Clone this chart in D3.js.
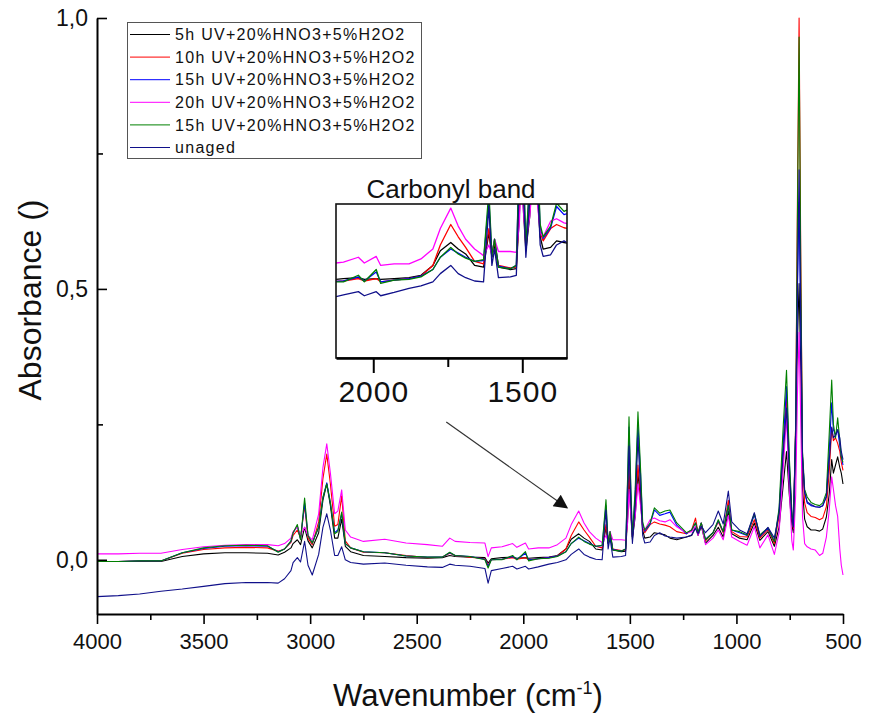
<!DOCTYPE html>
<html lang="en">
<head>
<meta charset="utf-8" />
<title>FTIR absorbance</title>
<script src="https://cdn.jsdelivr.net/npm/d3@7/dist/d3.min.js"></script>
<style>
  body { margin: 0; background: white; }
  text { font-family: "Liberation Sans", Arial, sans-serif; fill: #111; }
</style>
</head>
<body>
<script>
// wavenumber grid (cm-1), shared by all spectra
var wavenumbers = [4000, 3900, 3800, 3700, 3600, 3500, 3400, 3300, 3200, 3150,
  3120, 3090, 3080, 3060, 3045, 3026, 3010, 2990, 2960, 2940,
  2922, 2905, 2885, 2870, 2852, 2835, 2810, 2750, 2650, 2550,
  2450, 2380, 2345, 2320, 2250, 2180, 2165, 2150, 2100, 2050,
  2030, 1990, 1975, 1930, 1880, 1840, 1800, 1775, 1740, 1715,
  1690, 1660, 1630, 1612, 1602, 1593, 1580, 1540, 1520, 1510,
  1504, 1495, 1488, 1475, 1462, 1450, 1440, 1430, 1405, 1385,
  1360, 1335, 1312, 1280, 1235, 1210, 1192, 1180, 1165, 1145,
  1110, 1085, 1062, 1038, 1022, 985, 950, 916, 890, 852,
  822, 800, 780, 765, 752, 740, 733, 722, 714, 706,
  698, 690, 680, 668, 650, 630, 610, 595, 578, 565,
  553, 545, 535, 525, 515, 508, 500];

var uv5h = [-0.003, -0.003, -0.003, -0.003, 0.006, 0.011, 0.013, 0.013, 0.012, 0.009,
  0.014, 0.022, 0.030, 0.037, 0.028, 0.060, 0.035, 0.022, 0.050, 0.110,
  0.140, 0.100, 0.040, 0.040, 0.075, 0.025, 0.015, 0.008, 0.006, 0.004,
  0.003, 0.004, 0.008, 0.006, 0.005, 0.004, -0.006, 0.002, 0.004, 0.005,
  0.003, 0.004, 0.003, 0.004, 0.005, 0.008, 0.020, 0.038, 0.048, 0.040,
  0.034, 0.020, 0.018, 0.060, 0.030, 0.045, 0.018, 0.015, 0.016, 0.080,
  0.150, 0.080, 0.038, 0.080, 0.160, 0.110, 0.055, 0.040, 0.042, 0.050,
  0.048, 0.046, 0.040, 0.037, 0.042, 0.045, 0.060, 0.045, 0.062, 0.031,
  0.045, 0.060, 0.042, 0.090, 0.048, 0.040, 0.037, 0.068, 0.036, 0.052,
  0.025, 0.060, 0.140, 0.200, 0.120, 0.065, 0.050, 0.200, 0.400, 0.510,
  0.350, 0.130, 0.075, 0.061, 0.055, 0.055, 0.053, 0.057, 0.079, 0.120,
  0.185, 0.160, 0.175, 0.190, 0.170, 0.160, 0.140];

var uv10h = [-0.003, -0.003, -0.002, -0.002, 0.012, 0.019, 0.022, 0.023, 0.022, 0.016,
  0.020, 0.032, 0.045, 0.055, 0.040, 0.100, 0.040, 0.028, 0.070, 0.150,
  0.195, 0.140, 0.062, 0.065, 0.118, 0.035, 0.022, 0.014, 0.013, 0.008,
  0.004, 0.005, 0.012, 0.008, 0.005, 0.002, -0.010, 0.000, 0.001, 0.004,
  0.001, 0.004, 0.000, 0.002, 0.004, 0.007, 0.020, 0.045, 0.070, 0.055,
  0.042, 0.025, 0.022, 0.065, 0.032, 0.050, 0.020, 0.017, 0.018, 0.090,
  0.170, 0.090, 0.042, 0.090, 0.175, 0.120, 0.060, 0.050, 0.065, 0.070,
  0.066, 0.064, 0.061, 0.052, 0.048, 0.055, 0.077, 0.050, 0.068, 0.035,
  0.050, 0.070, 0.050, 0.110, 0.052, 0.043, 0.042, 0.074, 0.040, 0.056,
  0.030, 0.080, 0.200, 0.300, 0.170, 0.080, 0.058, 0.250, 0.650, 1.000,
  0.550, 0.190, 0.105, 0.087, 0.080, 0.078, 0.074, 0.077, 0.098, 0.160,
  0.243, 0.220, 0.225, 0.215, 0.200, 0.180, 0.165];

var uv15h = [-0.003, -0.003, -0.002, -0.002, 0.013, 0.021, 0.025, 0.026, 0.025, 0.015,
  0.020, 0.034, 0.050, 0.062, 0.038, 0.105, 0.045, 0.031, 0.060, 0.115,
  0.142, 0.105, 0.050, 0.055, 0.085, 0.030, 0.022, 0.015, 0.013, 0.007,
  0.005, 0.005, 0.013, 0.008, 0.006, 0.001, -0.012, 0.000, 0.001, 0.006,
  0.001, 0.012, 0.000, 0.002, 0.004, 0.007, 0.015, 0.030, 0.040, 0.035,
  0.030, 0.025, 0.026, 0.100, 0.032, 0.052, 0.019, 0.016, 0.020, 0.150,
  0.245, 0.120, 0.042, 0.120, 0.250, 0.160, 0.065, 0.053, 0.066, 0.092,
  0.082, 0.085, 0.088, 0.064, 0.048, 0.055, 0.068, 0.050, 0.068, 0.038,
  0.050, 0.072, 0.052, 0.100, 0.055, 0.050, 0.045, 0.083, 0.044, 0.058,
  0.034, 0.090, 0.220, 0.320, 0.180, 0.085, 0.062, 0.240, 0.500, 0.660,
  0.420, 0.190, 0.125, 0.105, 0.100, 0.098, 0.097, 0.100, 0.118, 0.200,
  0.290, 0.240, 0.230, 0.240, 0.210, 0.190, 0.175];

var uv20h = [0.011, 0.011, 0.012, 0.012, 0.019, 0.024, 0.027, 0.028, 0.028, 0.026,
  0.030, 0.040, 0.052, 0.061, 0.046, 0.060, 0.045, 0.037, 0.085, 0.170,
  0.214, 0.160, 0.085, 0.090, 0.129, 0.055, 0.042, 0.034, 0.038, 0.031,
  0.028, 0.025, 0.040, 0.034, 0.032, 0.031, 0.006, 0.022, 0.024, 0.030,
  0.023, 0.031, 0.020, 0.022, 0.022, 0.028, 0.040, 0.065, 0.090, 0.068,
  0.052, 0.040, 0.032, 0.045, 0.034, 0.052, 0.037, 0.037, 0.036, 0.070,
  0.130, 0.080, 0.049, 0.080, 0.140, 0.100, 0.060, 0.055, 0.074, 0.077,
  0.072, 0.070, 0.074, 0.061, 0.050, 0.052, 0.062, 0.045, 0.066, 0.028,
  0.040, 0.055, 0.037, 0.082, 0.042, 0.034, 0.027, 0.061, 0.022, 0.046,
  0.010, 0.050, 0.170, 0.264, 0.130, 0.035, 0.018, 0.120, 0.300, 0.420,
  0.250, 0.080, 0.030, 0.024, 0.020, 0.018, 0.008, 0.012, 0.042, 0.090,
  0.153, 0.130, 0.100, 0.080, 0.020, -0.010, -0.028];

var uv15hB = [-0.003, -0.003, -0.002, -0.002, 0.013, 0.022, 0.026, 0.027, 0.026, 0.014,
  0.020, 0.035, 0.050, 0.065, 0.037, 0.114, 0.045, 0.031, 0.060, 0.115,
  0.140, 0.105, 0.048, 0.052, 0.088, 0.030, 0.022, 0.015, 0.013, 0.007,
  0.005, 0.005, 0.014, 0.008, 0.006, 0.000, -0.015, 0.000, 0.000, 0.008,
  0.000, 0.015, -0.002, 0.002, 0.003, 0.006, 0.015, 0.030, 0.042, 0.034,
  0.029, 0.025, 0.027, 0.111, 0.032, 0.052, 0.018, 0.016, 0.020, 0.160,
  0.264, 0.130, 0.042, 0.130, 0.273, 0.170, 0.070, 0.055, 0.068, 0.096,
  0.086, 0.090, 0.092, 0.068, 0.050, 0.055, 0.068, 0.050, 0.068, 0.037,
  0.050, 0.074, 0.052, 0.100, 0.055, 0.052, 0.046, 0.085, 0.046, 0.059,
  0.034, 0.095, 0.250, 0.350, 0.190, 0.090, 0.064, 0.250, 0.620, 0.965,
  0.520, 0.200, 0.130, 0.116, 0.106, 0.102, 0.100, 0.105, 0.124, 0.230,
  0.332, 0.250, 0.225, 0.262, 0.220, 0.190, 0.180];

var unaged = [-0.068, -0.066, -0.063, -0.058, -0.054, -0.049, -0.044, -0.042, -0.042, -0.043,
  -0.035, -0.020, -0.005, 0.004, -0.004, 0.034, -0.010, -0.028, 0.010, 0.060,
  0.085, 0.055, 0.008, 0.008, 0.024, 0.000, -0.005, -0.008, -0.006, -0.010,
  -0.013, -0.014, -0.008, -0.010, -0.012, -0.016, -0.043, -0.020, -0.016, -0.012,
  -0.017, -0.012, -0.017, -0.013, -0.008, -0.005, 0.000, 0.010, 0.020, 0.010,
  0.005, 0.001, 0.000, 0.092, 0.020, 0.040, 0.005, 0.006, 0.008, 0.120,
  0.210, 0.100, 0.030, 0.100, 0.225, 0.130, 0.045, 0.031, 0.033, 0.045,
  0.050, 0.044, 0.042, 0.040, 0.042, 0.046, 0.058, 0.048, 0.062, 0.050,
  0.065, 0.090, 0.066, 0.127, 0.070, 0.055, 0.048, 0.087, 0.043, 0.060,
  0.040, 0.085, 0.200, 0.280, 0.160, 0.080, 0.060, 0.240, 0.500, 0.720,
  0.450, 0.190, 0.125, 0.107, 0.102, 0.098, 0.097, 0.100, 0.116, 0.180,
  0.245, 0.225, 0.230, 0.240, 0.225, 0.200, 0.185];

var seriesNames = ["5h UV+20%HNO3+5%H2O2", "10h UV+20%HNO3+5%H2O2", "15h UV+20%HNO3+5%H2O2",
  "20h UV+20%HNO3+5%H2O2", "15h UV+20%HNO3+5%H2O2", "unaged"];
var seriesValues = [uv5h, uv10h, uv15h, uv20h, uv15hB, unaged];
var seriesColors = ["#000000", "#ff0000", "#0000ff", "#ff00ff", "#008000", "#10108a"];

var xTicks = [4000, 3500, 3000, 2500, 2000, 1500, 1000, 500];
var xMinorTicks = [3750, 3250, 2750, 2250, 1750, 1250, 750];
var yTicks = [0, 0.5, 1.0];
var yMinorTicks = [0.25, 0.75];
var insetTicks = [2000, 1500];
var insetMinorTicks = [1750];

var w = 869, h = 720;
var svg = d3.select("body").append("svg")
            .attr("width", w)
            .attr("height", h);

var comma = d3.formatLocale({decimal: ",", thousands: ".", grouping: [3], currency: ["", ""]}).format(".1f");
var plain = d3.format("d");

var xScale = d3.scaleLinear().domain([4000, 500]).range([97, 843]);
var yScale = d3.scaleLinear().domain([-0.1, 1.0]).range([614, 18]);

var series = seriesValues.map(function(vals, i) {
  return { name: seriesNames[i], color: seriesColors[i],
           points: wavenumbers.map(function(wn, j) { return [wn, vals[j]]; }) };
});

// main spectra
var line = d3.line()
             .x(function(d) { return xScale(d[0]); })
             .y(function(d) { return yScale(d[1]); });
svg.append("g").selectAll("path")
   .data(series)
   .enter()
   .append("path")
   .attr("d", function(d) { return line(d.points); })
   .attr("fill", "none")
   .attr("stroke", function(d) { return d.color; })
   .attr("stroke-width", 1.1)
   .attr("stroke-linejoin", "round");

// axes
var xAxis = d3.axisBottom(xScale).tickValues(xTicks).tickSize(10).tickSizeOuter(0).tickPadding(9)
              .tickFormat(plain);
var xMinor = d3.axisBottom(xScale).tickValues(xMinorTicks).tickSize(6).tickFormat("");
var yAxis = d3.axisLeft(yScale).tickValues(yTicks).tickSize(-10).tickSizeOuter(0).tickPadding(9)
              .tickFormat(comma);
var yMinor = d3.axisLeft(yScale).tickValues(yMinorTicks).tickSize(-6).tickFormat("");

var gx = svg.append("g").attr("transform", "translate(0,614)").call(xAxis);
svg.append("g").attr("transform", "translate(0,614)").call(xMinor).select(".domain").remove();
var gy = svg.append("g").attr("transform", "translate(97,0)").call(yAxis);
svg.append("g").attr("transform", "translate(97,0)").call(yMinor).select(".domain").remove();

svg.selectAll(".domain").attr("stroke-width", 2);
svg.selectAll(".tick line").attr("stroke-width", 1.6);
gx.selectAll("text").attr("font-size", 22).attr("font-family", "Liberation Sans, Arial, sans-serif").attr("fill", "#111");
gy.selectAll("text").attr("font-size", 23).attr("font-family", "Liberation Sans, Arial, sans-serif").attr("fill", "#111");

// axis titles
svg.append("text")
   .attr("transform", "translate(41,300) rotate(-90)")
   .attr("text-anchor", "middle")
   .attr("font-size", 32)
   .text("Absorbance ()");
var xt = svg.append("text")
   .attr("x", 468)
   .attr("y", 706)
   .attr("text-anchor", "middle")
   .attr("font-size", 31)
   .text("Wavenumber (cm");
xt.append("tspan").attr("font-size", 18).attr("dy", -12).text("-1");
xt.append("tspan").attr("dy", 12).text(")");

// legend
var legend = svg.append("g");
legend.append("rect")
      .attr("x", 127.5).attr("y", 22.5)
      .attr("width", 294).attr("height", 136)
      .attr("fill", "white")
      .attr("stroke", "#555")
      .attr("stroke-width", 1);
var rows = legend.selectAll("g.row")
                 .data(series)
                 .enter()
                 .append("g")
                 .attr("class", "row")
                 .attr("transform", function(d, i) { return "translate(0," + (34.5 + i * 22.6) + ")"; });
rows.append("line")
    .attr("x1", 130).attr("x2", 170)
    .attr("stroke", function(d) { return d.color; })
    .attr("stroke-width", 1);
rows.append("text")
    .attr("x", 175)
    .attr("dy", "0.36em")
    .attr("font-size", 16)
    .attr("letter-spacing", 1.3)
    .text(function(d) { return d.name; });

// inset: carbonyl band
var ix = d3.scaleLinear().domain([2125, 1350]).range([336, 567]);
var iy = d3.scaleLinear().domain([-0.093, 0.095]).range([358, 204]);
var inset = svg.append("g");
inset.append("rect")
     .attr("x", 336).attr("y", 204)
     .attr("width", 231).attr("height", 154)
     .attr("fill", "white");
svg.append("clipPath").attr("id", "insetClip")
   .append("rect").attr("x", 336).attr("y", 204).attr("width", 231).attr("height", 154);
var iline = d3.line()
              .x(function(d) { return ix(d[0]); })
              .y(function(d) { return iy(d[1]); });
inset.append("g")
     .attr("clip-path", "url(#insetClip)")
     .selectAll("path")
     .data(series)
     .enter()
     .append("path")
     .attr("d", function(d) { return iline(d.points); })
     .attr("fill", "none")
     .attr("stroke", function(d) { return d.color; })
     .attr("stroke-width", 1.3)
     .attr("stroke-linejoin", "round");
inset.append("rect")
     .attr("x", 336).attr("y", 204)
     .attr("width", 231).attr("height", 154)
     .attr("fill", "none")
     .attr("stroke", "#111")
     .attr("stroke-width", 1.6);
var ixAxis = d3.axisBottom(ix).tickValues(insetTicks).tickSize(15).tickSizeOuter(0).tickPadding(8)
               .tickFormat(plain);
var ixMinor = d3.axisBottom(ix).tickValues(insetMinorTicks).tickSize(9).tickFormat("");
var gix = inset.append("g").attr("transform", "translate(0,358)").call(ixAxis);
inset.append("g").attr("transform", "translate(0,358)").call(ixMinor).select(".domain").remove();
gix.select(".domain").attr("stroke-width", 2.5);
inset.selectAll(".tick line").attr("stroke-width", 2);
gix.selectAll("text")
   .attr("font-size", 30)
   .attr("font-family", "Noto Sans, sans-serif")
   .attr("letter-spacing", 1)
   .attr("fill", "#111");
inset.append("text")
     .attr("x", 451)
     .attr("y", 198)
     .attr("text-anchor", "middle")
     .attr("font-family", "Noto Sans, sans-serif")
     .attr("font-size", 26)
     .text("Carbonyl band");

// arrow pointing at the carbonyl peak
svg.append("defs").append("marker")
   .attr("id", "head")
   .attr("viewBox", "0 0 10 10")
   .attr("refX", 9).attr("refY", 5)
   .attr("markerWidth", 18).attr("markerHeight", 14)
   .attr("markerUnits", "userSpaceOnUse")
   .attr("orient", "auto")
   .append("path")
   .attr("d", "M0,0L10,5L0,10Z")
   .attr("fill", "#111");
svg.append("line")
   .attr("x1", ix(1755)).attr("y1", 422)
   .attr("x2", xScale(1795))
   .attr("y2", yScale(0.096))
   .attr("stroke", "#333")
   .attr("stroke-width", 1.2)
   .attr("marker-end", "url(#head)");
</script>
</body>
</html>
